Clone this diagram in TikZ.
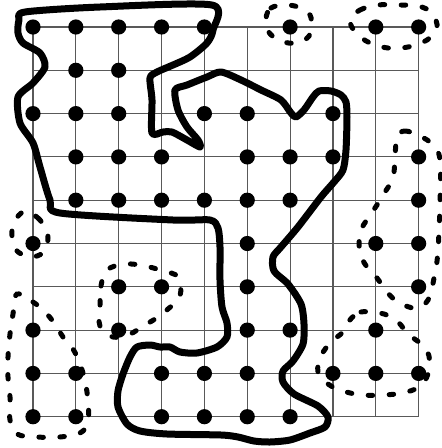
\documentclass[tikz,border=0pt]{standalone}
\begin{document}
\begin{tikzpicture}[x=1pt,y=-1pt,
  gridline/.style={draw=black!65,line width=1.1pt},
  dotmark/.style={fill=black},
  thickline/.style={line width=7pt,line join=round,line cap=round},
  dashloop/.style={line width=5pt,line cap=round,dash pattern=on 4.5pt off 16.5pt}]
\useasboundingbox (0,0) rectangle (442,448);
\fill[white] (0,0) rectangle (442,448);
% grid
\foreach \i in {0,...,9}{
  \draw[gridline] ({33+42.85*\i},27) -- ({33+42.85*\i},416.7);
  \draw[gridline] (33,{27+43.3*\i}) -- (418.7,{27+43.3*\i});
}
% dots
\foreach \r/\cols in {0/{0,1,2,3,4,6,8,9},1/{1,2},2/{0,1,2,4,5,7},3/{1,2,3,5,6,7,9},4/{1,2,3,4,5,6,9},5/{0,5,8,9},6/{2,3,5,9},7/{0,2,5,6,8},8/{0,1,3,4,5,7,8,9},9/{0,1,3,4,5,6}}{
  \foreach \c in \cols{
    \fill[dotmark] ({33+42.85*\c},{27+43.3*\r}) circle (7.6);
  }
}
% thick closed curve
\draw[thickline] plot[smooth cycle,tension=0.45] coordinates {
 (25,12) (100,7) (212,5) (213,30) (207,43) (190,57) (173,65) (157,72) (150,78)
 (152,100) (152,133) (163,132) (172,132) (187,140) (200,147) (198,140) (187,127)
 (178,110) (175,90) (187,85) (207,77) (221,72) (241,80) (261,90) (281,100)
 (291,113) (296,117) (304,110) (313,97) (319,91) (331,91) (341,95) (346,102)
 (347,117) (346,150) (343,170) (334,182) (321,197) (298,227) (281,247) (273,257)
 (274,271) (288,284) (301,304) (304,324) (303,344) (293,361) (283,371) (283,382)
 (294,394) (318,406) (328,417) (325,427) (310,433) (290,440) (270,442) (254,441)
 (238,437) (221,435) (167,434) (140,431) (127,424) (118,407) (118,391) (123,374)
 (130,357) (137,347) (150,345) (160,347) (170,347) (180,352) (197,353) (217,347)
 (227,337) (227,323) (222,307) (220,280) (220,247) (218,228) (210,220) (173,220)
 (60,213) (50,200) (40,167) (33,143) (20,123) (18,97) (33,83) (45,67) (40,53)
 (23,43) (18,33) (19,20)};
% dashed loops
\draw[dashloop] plot[smooth cycle,tension=0.6] coordinates {
 (266,18) (271,8) (284,5) (298,7) (310,15) (311,27) (309,36) (298,43) (280,41) (268,31)};
\draw[dashloop] plot[smooth cycle,tension=0.6] coordinates {
 (350,20) (360,10) (378,5) (398,5) (418,6) (432,13) (437,28) (427,40) (408,47) (388,48) (370,43) (356,33)};
\draw[dashloop] plot[smooth cycle,tension=0.6] coordinates {
 (397,137) (405,131) (420,136) (433,145) (440,160) (440,203) (438,250) (435,273)
 (428,300) (415,308) (398,302) (387,292) (377,278) (367,267) (360,253) (360,233)
 (368,218) (377,205) (385,192) (393,178) (395,158)};
\draw[dashloop] plot[smooth cycle,tension=0.6] coordinates {
 (349,321) (361,312) (384,314) (398,322) (408,334) (421,344) (429,356) (428,374)
 (419,387) (402,393) (383,395) (362,395) (343,391) (328,384) (318,372) (321,356)
 (331,342) (343,332)};
\draw[dashloop] plot[smooth cycle,tension=0.6] coordinates {
 (25,211) (38,218) (45,228) (48,238) (44,252) (30,257) (16,250) (12,236) (14,222)};
\draw[dashloop] plot[smooth cycle,tension=0.6] coordinates {
 (100,307) (101,286) (107,270) (125,264) (145,266) (163,271) (178,277) (180,296)
 (168,309) (155,319) (143,326) (130,334) (113,337) (100,326)};
\draw[dashloop] plot[smooth cycle,tension=0.6] coordinates {
 (17,294) (33,302) (45,312) (55,324) (63,337) (73,349) (80,364) (85,381) (88,401)
 (88,422) (80,433) (60,437) (37,437) (17,434) (10,420) (10,397) (8,377) (8,357)
 (10,334) (13,314)};
\end{tikzpicture}
\end{document}
